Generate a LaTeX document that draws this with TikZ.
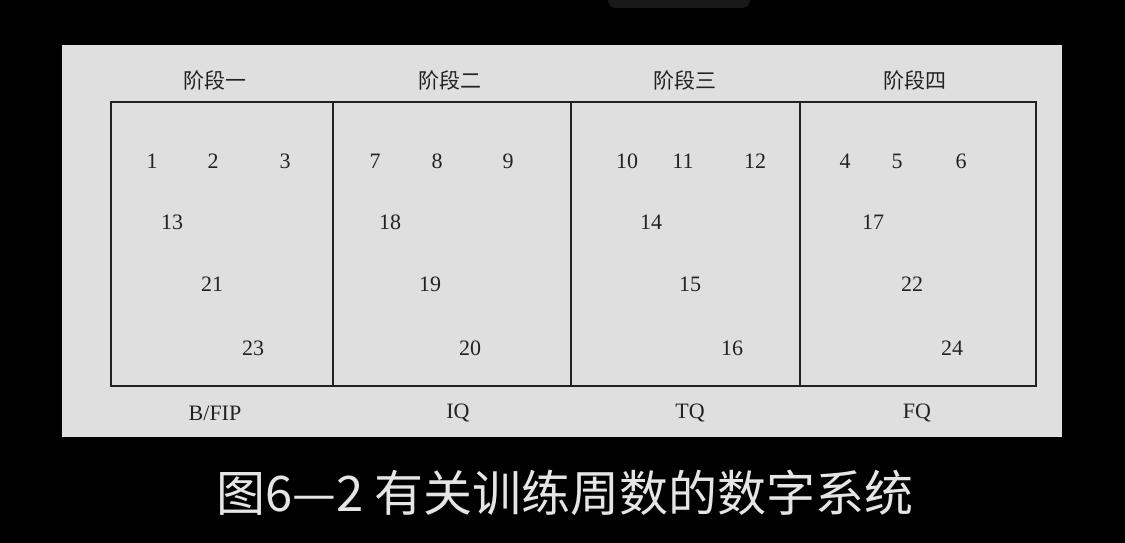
\documentclass[tikz,border=0pt]{standalone}
\usepackage{fontspec}
\setmainfont{Liberation Serif}
\newfontfamily\cjk{Noto Sans CJK SC}
\definecolor{paper}{HTML}{DFDFDF}
\definecolor{ink}{HTML}{222222}
\begin{document}
\begin{tikzpicture}[
    x=1pt, y=-1pt,
    every node/.style={text=ink, inner sep=0pt},
    week/.style={font=\fontsize{22}{22}\selectfont},
    stagelabel/.style={font=\cjk\fontsize{21}{21}\selectfont},
    levellabel/.style={font=\fontsize{22}{22}\selectfont},
    frame/.style={draw=ink, line width=1.6pt},
  ]
    % Page: 1125 x 543, 1pt per pixel
    \fill[black] (0,0) rectangle (1125,543);
    \useasboundingbox (0,0) rectangle (1125,543);
    \fill[black!90!white, rounded corners=8pt] (608,-10) rectangle (750,8);
    \fill[paper] (62,45) rectangle (1062,437);

    % Box rows and column limits
    \def\top{102}
    \def\bot{386}
    \draw[frame] (111,\top) rectangle (1036,\bot);
    \foreach \x in {333,571,800} {
      \draw[frame] (\x,\top) -- (\x,\bot);
    }

    % Stage headers
    \foreach \i/\x/\t in {1/215/阶段一,2/450/阶段二,3/685/阶段三,4/915/阶段四} {
      \node[stagelabel] (stage\i) at (\x,80) {\t};
    }

    % Level names under the box
    \foreach \i/\x/\t in {1/215/{B/FIP},2/458/IQ,3/690/TQ,4/917/FQ} {
      \node[levellabel] (level\i) at (\x,413) {\t};
    }

    % Week numbers: four rows per stage
    \def\rA{161}
    \def\rB{222}
    \def\rC{284}
    \def\rD{348}
    \foreach \n/\x/\y in {1/152/\rA,2/213/\rA,3/285/\rA,13/172/\rB,21/212/\rC,23/253/\rD,
                          7/375/\rA,8/437/\rA,9/508/\rA,18/390/\rB,19/430/\rC,20/470/\rD,
                          10/627/\rA,11/683/\rA,12/755/\rA,14/651/\rB,15/690/\rC,16/732/\rD,
                          4/845/\rA,5/897/\rA,6/961/\rA,17/873/\rB,22/912/\rC,24/952/\rD} {
      \node[week] (wk\n) at (\x,\y) {\n};
    }

    % Caption
    \node[font=\cjk\fontsize{49}{49}\selectfont, text=white!90!black] (caption) at (565,493)
      {图6—2 有关训练周数的数字系统};
\end{tikzpicture}
\end{document}
